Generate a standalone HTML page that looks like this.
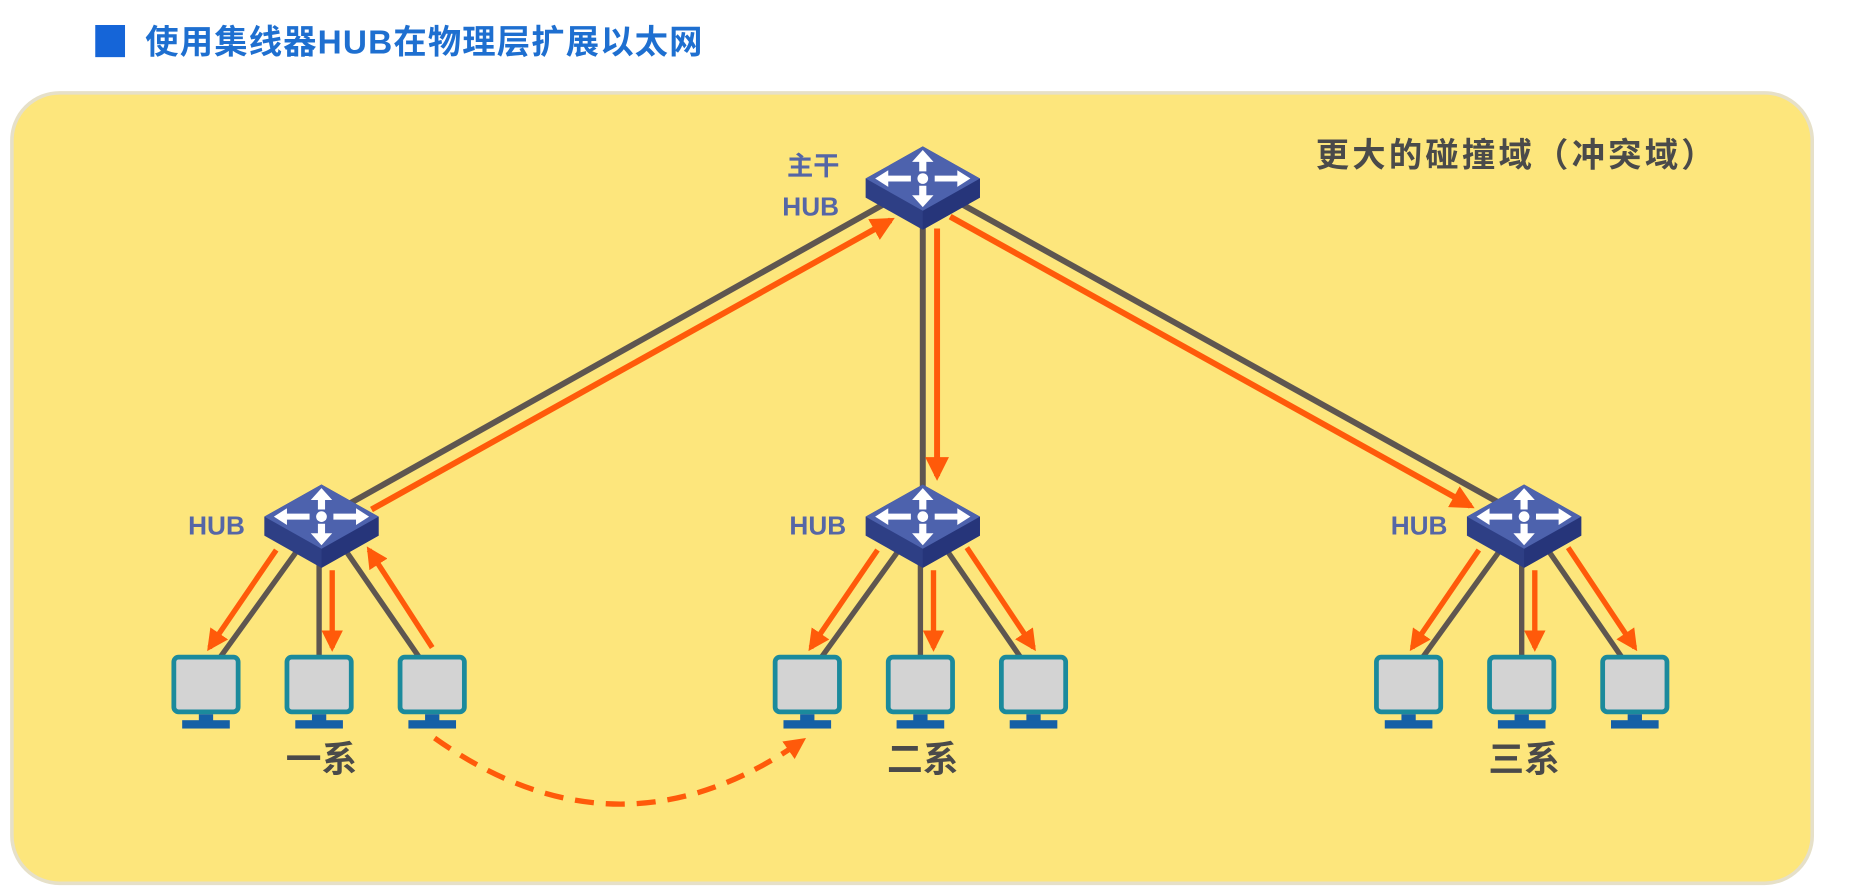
<!DOCTYPE html>
<html><head><meta charset="utf-8"><style>
html,body{margin:0;padding:0;background:#fff;}
svg{display:block;}
</style></head><body>
<svg width="1867" height="894" viewBox="0 0 1568 751" preserveAspectRatio="none" xmlns="http://www.w3.org/2000/svg">
<defs>
<marker id="ah" viewBox="0 0 10 10" refX="8" refY="5" markerWidth="4" markerHeight="4" orient="auto"><path d="M0,0 L10,5 L0,10 z" fill="#ff5a0a"/></marker>
<g id="hub">
<path d="M-48,0 L0,-27 L48,0 L48,16 L0,43 L-48,16 z" fill="#2e3f85"/>
<path d="M0,27 L48,0 L48,16 L0,43 z" fill="#26357a"/>
<path d="M-48,0 L0,-27 L48,0 L0,27 z" fill="#4d62ad"/>
<g fill="#fff">
<circle cx="0" cy="0" r="4.5"/>
<path d="M0,-24 L-9,-14 L-3,-14 L-3,-6 L3,-6 L3,-14 L9,-14 z"/>
<path d="M0,24 L-9,14 L-3,14 L-3,6 L3,6 L3,14 L9,14 z"/>
<path d="M-40,0 L-29,-7 L-29,-2.5 L-10,-2.5 L-10,2.5 L-29,2.5 L-29,7 z"/>
<path d="M40,0 L29,-7 L29,-2.5 L10,-2.5 L10,2.5 L29,2.5 L29,7 z"/>
</g>
</g>
<g id="pc">
<rect x="-27" y="0" width="54" height="46" rx="4" fill="#d3d3d3" stroke="#1b8a9c" stroke-width="4"/>
<rect x="-6" y="48" width="12" height="6" fill="#1560a6"/>
<rect x="-20" y="53" width="40" height="7" fill="#1560a6"/>
</g>
</defs>
<rect x="80" y="21" width="25" height="27" fill="#1565d8"/>
<text x="122" y="45" font-family="Liberation Sans, Noto Sans CJK SC, sans-serif" font-weight="bold" font-size="28" fill="#1e6fd0" textLength="468">使用集线器HUB在物理层扩展以太网</text>
<rect x="10" y="78" width="1512" height="664" rx="40" fill="#fde67c" stroke="#e6e0c8" stroke-width="3"/>
<text x="1105" y="140" font-family="Liberation Sans, Noto Sans CJK SC, sans-serif" font-weight="bold" font-size="28" fill="#4a4a4a" textLength="335">更大的碰撞域（冲突域）</text>
<g stroke-width="5" fill="none">
<line x1="745" y1="170" x2="290" y2="425" stroke="#5e5650"/>
<line x1="312" y1="428" x2="748" y2="185" stroke="#ff5a0a" marker-end="url(#ah)"/>
<line x1="775" y1="185" x2="775" y2="412" stroke="#5e5650"/>
<line x1="787" y1="192" x2="787" y2="400" stroke="#ff5a0a" marker-end="url(#ah)"/>
<line x1="805" y1="170" x2="1262" y2="424" stroke="#5e5650"/>
<line x1="798" y1="182" x2="1235" y2="425" stroke="#ff5a0a" marker-end="url(#ah)"/>
</g>
<g id="grp" stroke-width="4.5" fill="none">
<line x1="250" y1="462" x2="185" y2="552" stroke="#5e5650"/>
<line x1="268" y1="470" x2="268" y2="552" stroke="#5e5650"/>
<line x1="290" y1="462" x2="352" y2="552" stroke="#5e5650"/>
<line x1="232" y1="462" x2="176" y2="544" stroke="#ff5a0a" marker-end="url(#ah)"/>
<line x1="279" y1="479" x2="279" y2="544" stroke="#ff5a0a" marker-end="url(#ah)"/>
</g>
<line x1="363" y1="544" x2="310" y2="462" stroke="#ff5a0a" stroke-width="4.5" marker-end="url(#ah)"/>
<use href="#grp" x="505"/>
<line x1="812" y1="460" x2="868" y2="544" stroke="#ff5a0a" stroke-width="4.5" marker-end="url(#ah)"/>
<use href="#grp" x="1010"/>
<line x1="1317" y1="460" x2="1373" y2="544" stroke="#ff5a0a" stroke-width="4.5" marker-end="url(#ah)"/>
<use href="#hub" x="775" y="150"/>
<use href="#hub" x="270" y="434"/>
<use href="#hub" x="775" y="434"/>
<use href="#hub" x="1280" y="434"/>
<g font-family="Liberation Sans, Noto Sans CJK SC, sans-serif" font-weight="bold" font-size="22" fill="#5566a6">
<text x="661" y="147">主干</text>
<text x="657" y="181">HUB</text>
<text x="158" y="449">HUB</text>
<text x="663" y="449">HUB</text>
<text x="1168" y="449">HUB</text>
</g>
<g>
<use href="#pc" x="173" y="552"/><use href="#pc" x="268" y="552"/><use href="#pc" x="363" y="552"/>
<use href="#pc" x="678" y="552"/><use href="#pc" x="773" y="552"/><use href="#pc" x="868" y="552"/>
<use href="#pc" x="1183" y="552"/><use href="#pc" x="1278" y="552"/><use href="#pc" x="1373" y="552"/>
</g>
<g font-family="Liberation Sans, Noto Sans CJK SC, sans-serif" font-weight="bold" font-size="30" fill="#4a4a4a" text-anchor="middle">
<text x="270" y="648">一系</text>
<text x="775" y="648">二系</text>
<text x="1280" y="648">三系</text>
</g>
<path d="M365,620 Q520,730 674,622" fill="none" stroke="#ff5a0a" stroke-width="4.5" stroke-dasharray="16,10" marker-end="url(#ah)"/>
</svg>
</body></html>
